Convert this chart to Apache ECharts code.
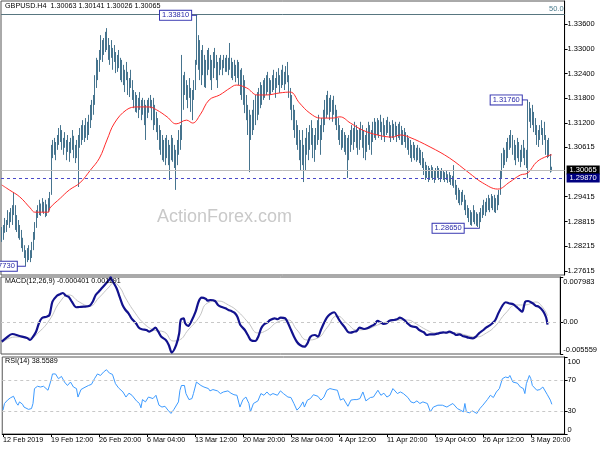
<!DOCTYPE html>
<html>
<head>
<meta charset="utf-8">
<script src="https://cdn.jsdelivr.net/npm/echarts@6.0.0/dist/echarts.min.js"></script>
<style>
html,body{margin:0;padding:0;background:#fff;}
#chart{width:600px;height:450px;}
</style>
</head>
<body>
<div id="chart"></div>
<script>
// ================= DATA =================
const symbolName = 'GBPUSD.H4';
const lastOHLC = [1.30063, 1.30141, 1.30026, 1.30065];

// H4 bar highs, one per bar (bar 0 = 12 Feb 2019)
const barHigh = [
1.2868,1.2873,1.2890,1.2885,1.2909,1.2904,1.2914,1.2921,1.2953,1.2921,
1.2897,1.2885,1.2873,1.2861,1.2842,1.2824,1.2812,1.2817,1.2824,1.2812,
1.2832,1.2856,1.2880,1.2909,1.2921,1.2934,1.2925,1.2938,1.2929,1.2934,
1.2923,1.2938,1.2953,1.3067,1.3079,1.3084,1.3074,1.3091,1.3108,1.3115,
1.3103,1.3084,1.3098,1.3079,1.3091,1.3074,1.3084,1.3103,1.3089,1.3067,
1.3079,1.3091,1.3108,1.3115,1.3127,1.3115,1.3132,1.3123,1.3140,1.3164,
1.3176,1.3188,1.3236,1.3278,1.3273,1.3297,1.3333,1.3321,1.3326,1.3341,
1.3350,1.3326,1.3309,1.3321,1.3302,1.3309,1.3292,1.3285,1.3297,1.3278,
1.3273,1.3261,1.3249,1.3268,1.3244,1.3229,1.3249,1.3224,1.3200,1.3195,
1.3188,1.3181,1.3195,1.3176,1.3181,1.3176,1.3164,1.3176,1.3181,1.3188,
1.3176,1.3181,1.3164,1.3147,1.3132,1.3115,1.3103,1.3091,1.3079,1.3084,
1.3091,1.3079,1.3067,1.3091,1.3084,1.3067,1.3055,1.3079,1.3103,1.3115,
1.3285,1.3236,1.3244,1.3224,1.3212,1.3229,1.3205,1.3200,1.3224,1.3273,
1.3381,1.3333,1.3321,1.3297,1.3309,1.3285,1.3273,1.3297,1.3302,1.3285,
1.3273,1.3292,1.3302,1.3285,1.3268,1.3278,1.3285,1.3273,1.3285,1.3278,
1.3285,1.3278,1.3314,1.3278,1.3268,1.3273,1.3261,1.3273,1.3268,1.3249,
1.3253,1.3236,1.3224,1.3188,1.3164,1.3152,1.3140,1.3152,1.3176,1.3188,
1.3195,1.3205,1.3219,1.3212,1.3224,1.3229,1.3236,1.3244,1.3229,1.3224,
1.3236,1.3249,1.3229,1.3244,1.3253,1.3236,1.3249,1.3261,1.3244,1.3258,
1.3268,1.3236,1.3205,1.3188,1.3164,1.3152,1.3127,1.3115,1.3103,1.3079,
1.3103,1.3067,1.3084,1.3108,1.3098,1.3115,1.3127,1.3108,1.3091,1.3108,
1.3127,1.3140,1.3115,1.3132,1.3152,1.3176,1.3188,1.3198,1.3181,1.3188,
1.3176,1.3186,1.3164,1.3152,1.3132,1.3115,1.3103,1.3108,1.3098,1.3091,
1.3084,1.3091,1.3103,1.3115,1.3108,1.3123,1.3115,1.3103,1.3108,1.3123,
1.3115,1.3103,1.3091,1.3108,1.3123,1.3115,1.3103,1.3123,1.3132,1.3123,
1.3132,1.3127,1.3140,1.3123,1.3132,1.3115,1.3127,1.3135,1.3123,1.3115,
1.3127,1.3118,1.3123,1.3113,1.3118,1.3123,1.3113,1.3103,1.3108,1.3098,
1.3091,1.3084,1.3079,1.3067,1.3074,1.3067,1.3060,1.3067,1.3060,1.3055,
1.3050,1.3035,1.3026,1.3018,1.3016,1.3011,1.3018,1.3013,1.3006,1.3011,
1.3016,1.3011,1.3006,1.3011,1.3006,1.3001,1.3006,1.2996,1.3001,1.2994,
1.2992,1.3018,1.2982,1.2970,1.2963,1.2958,1.2953,1.2958,1.2946,1.2934,
1.2921,1.2914,1.2909,1.2904,1.2921,1.2909,1.2904,1.2900,1.2904,1.2914,
1.2921,1.2934,1.2929,1.2938,1.2946,1.2938,1.2948,1.2943,1.2946,1.2938,
1.2946,1.2958,1.3006,1.3047,1.3060,1.3055,1.3074,1.3084,1.3091,1.3103,
1.3091,1.3079,1.3067,1.3084,1.3074,1.3055,1.3067,1.3079,1.3060,1.3055,
1.3176,1.3171,1.3156,1.3164,1.3147,1.3132,1.3115,1.3103,1.3115,1.3127,
1.3108,1.3123,1.3091,1.3079,1.3084,1.3045,1.30141
];
// H4 bar lows, one per bar
const barLow = [
1.2832,1.2837,1.2854,1.2856,1.2873,1.2866,1.2880,1.2873,1.2897,1.2861,
1.2856,1.2841,1.2837,1.2817,1.2808,1.2793,1.2773,1.2783,1.2788,1.2783,
1.2793,1.2812,1.2837,1.2866,1.2890,1.2897,1.2895,1.2904,1.2900,1.2892,
1.2895,1.2904,1.2909,1.2946,1.3035,1.3043,1.3030,1.3055,1.3067,1.3074,
1.3055,1.3043,1.3060,1.3030,1.3050,1.3026,1.3047,1.3055,1.3035,1.3023,
1.3035,1.2965,1.3060,1.3067,1.3079,1.3074,1.3084,1.3079,1.3091,1.3108,
1.3127,1.3140,1.3164,1.3205,1.3224,1.3244,1.3273,1.3268,1.3285,1.3292,
1.3297,1.3273,1.3261,1.3278,1.3249,1.3268,1.3241,1.3244,1.3253,1.3224,
1.3219,1.3212,1.3195,1.3224,1.3188,1.3183,1.3205,1.3176,1.3156,1.3147,
1.3145,1.3132,1.3152,1.3127,1.3140,1.3115,1.3079,1.3132,1.3145,1.3156,
1.3127,1.3103,1.3115,1.3098,1.3079,1.3055,1.3043,1.3030,1.3026,1.3018,
1.3035,1.3018,1.2982,1.3030,1.3026,1.3011,1.2958,1.3018,1.3043,1.3055,
1.3079,1.3152,1.3188,1.3176,1.3156,1.3181,1.3147,1.3127,1.3176,1.3200,
1.3261,1.3249,1.3224,1.3212,1.3236,1.3207,1.3205,1.3236,1.3249,1.3224,
1.3200,1.3229,1.3253,1.3224,1.3205,1.3236,1.3249,1.3236,1.3253,1.3244,
1.3244,1.3236,1.3249,1.3229,1.3224,1.3234,1.3219,1.3229,1.3212,1.3188,
1.3176,1.3164,1.3144,1.3127,1.3091,1.3001,1.3079,1.3091,1.3103,1.3115,
1.3127,1.3140,1.3156,1.3164,1.3176,1.3181,1.3188,1.3195,1.3176,1.3188,
1.3195,1.3200,1.3181,1.3205,1.3212,1.3193,1.3205,1.3212,1.3200,1.3214,
1.3219,1.3181,1.3152,1.3127,1.3103,1.3084,1.3067,1.3055,1.3030,1.3006,
1.3018,1.2977,1.3006,1.3043,1.3030,1.3055,1.3067,1.3035,1.3026,1.3055,
1.3067,1.3079,1.3043,1.3079,1.3098,1.3115,1.3132,1.3140,1.3127,1.3147,
1.3123,1.3140,1.3115,1.3103,1.3079,1.3067,1.3055,1.3060,1.3050,1.3043,
1.2987,1.3030,1.3050,1.3067,1.3055,1.3074,1.3060,1.3043,1.3055,1.3079,
1.3060,1.3035,1.3030,1.3050,1.3067,1.3055,1.3043,1.3074,1.3084,1.3079,
1.3091,1.3084,1.3098,1.3079,1.3089,1.3074,1.3091,1.3096,1.3084,1.3074,
1.3084,1.3079,1.3089,1.3074,1.3084,1.3079,1.3067,1.3067,1.3074,1.3060,
1.3055,1.3043,1.3035,1.3026,1.3035,1.3030,1.3026,1.3030,1.3023,1.3018,
1.3011,1.2994,1.2982,1.2987,1.2977,1.2982,1.2987,1.2982,1.2975,1.2982,
1.2987,1.2982,1.2977,1.2987,1.2982,1.2977,1.2982,1.2975,1.2977,1.2970,
1.2968,1.2963,1.2946,1.2934,1.2926,1.2921,1.2921,1.2929,1.2909,1.2897,
1.2890,1.2880,1.2873,1.2871,1.2880,1.2875,1.2871,1.2868,1.2865,1.2880,
1.2890,1.2897,1.2895,1.2904,1.2909,1.2904,1.2914,1.2909,1.2904,1.2902,
1.2909,1.2921,1.2946,1.2987,1.3011,1.3018,1.3026,1.3035,1.3055,1.3060,
1.3043,1.3030,1.3018,1.3035,1.3026,1.3013,1.3026,1.3035,1.3018,1.3011,
1.2987,1.3123,1.3108,1.3115,1.3098,1.3091,1.3067,1.3062,1.3079,1.3091,
1.3067,1.3079,1.3043,1.3035,1.3038,1.3000,1.30026
];

// moving average (red), [bar, value] read at the points below
const maLine = [[0,1.2970],[5,1.2958],[12,1.2941],[19,1.2914],[22,1.2904],[31,1.2904],[32,1.2914],[39,1.2938],[45,1.2958],[52,1.2975],
[59,1.3006],[65,1.3035],[70,1.3079],[75,1.3120],[83,1.3152],[90,1.3159],[98,1.3159],[103,1.3152],[110,1.3135],[116,1.3118],
[123,1.3127],[127,1.3120],[132,1.3140],[138,1.3176],[145,1.3188],[152,1.3205],[156,1.3212],[163,1.3205],[170,1.3188],[176,1.3188],
[185,1.3193],[192,1.3195],[198,1.3169],[205,1.3144],[212,1.3132],[220,1.3132],[225,1.3135],[232,1.3120],[240,1.3103],[250,1.3091],
[260,1.3086],[265,1.3091],[271,1.3086],[285,1.3062],[298,1.3035],[311,1.2999],[320,1.2975],[330,1.2960],[338,1.2977],[345,1.2994],
[350,1.2999],[356,1.3026],[363,1.3040],[366,1.3043]];

// MACD(12,26,9) main line and signal line, [bar, value]
const macdLine = [[0,-0.00339],[3,-0.00274],[7,-0.00204],[12,-0.00239],[17,-0.00274],[19,-0.00310],[21,-0.00251],[23,-0.00164],[25,-0.00011],[27,0.00077],
[30,0.00100],[32,0.00130],[34,0.00364],[37,0.00470],[39,0.00494],[41,0.00517],[43,0.00470],[45,0.00447],[47,0.00364],[50,0.00266],
[52,0.00271],[55,0.00276],[59,0.00294],[61,0.00364],[63,0.00482],[65,0.00540],[67,0.00600],[70,0.00688],[72,0.00750],[73,0.00790],
[74,0.00740],[77,0.00600],[79,0.00452],[81,0.00306],[83,0.00218],[85,0.00160],[87,0.00072],[90,-0.00016],[92,-0.00093],[94,-0.00121],
[97,-0.00134],[99,-0.00164],[101,-0.00134],[103,-0.00093],[105,-0.00164],[107,-0.00251],[110,-0.00310],[112,-0.00397],[114,-0.00530],[117,-0.00397],
[119,-0.00192],[120,0.00042],[122,0.00072],[123,-0.00016],[125,-0.00063],[127,0.00012],[130,0.00188],[132,0.00364],[134,0.00434],[137,0.00412],
[138,0.00382],[140,0.00394],[143,0.00376],[145,0.00306],[147,0.00276],[150,0.00248],[152,0.00218],[154,0.00200],[156,0.00171],[158,0.00100],
[160,-0.00046],[163,-0.00134],[165,-0.00222],[167,-0.00310],[170,-0.00327],[172,-0.00251],[174,-0.00104],[176,-0.00033],[178,-0.00005],[180,0.00042],
[183,0.00072],[185,0.00055],[187,0.00083],[190,0.00072],[192,-0.00016],[194,-0.00134],[196,-0.00251],[198,-0.00345],[200,-0.00397],[203,-0.00427],
[205,-0.00368],[207,-0.00251],[210,-0.00222],[212,-0.00251],[214,-0.00134],[216,-0.00016],[218,0.00083],[220,0.00142],[223,0.00178],[225,0.00100],
[227,0.00012],[230,-0.00086],[232,-0.00164],[234,-0.00181],[236,-0.00164],[238,-0.00151],[240,-0.00093],[243,-0.00116],[245,-0.00104],[247,-0.00076],
[250,-0.00033],[252,0.00025],[254,0.00002],[256,-0.00028],[258,-0.00016],[260,0.00030],[263,0.00042],[265,0.00055],[267,0.00083],[270,0.00042],
[272,-0.00016],[274,-0.00058],[276,-0.00076],[278,-0.00086],[280,-0.00134],[283,-0.00174],[285,-0.00222],[287,-0.00209],[290,-0.00209],[293,-0.00192],
[296,-0.00174],[298,-0.00181],[300,-0.00164],[303,-0.00192],[305,-0.00222],[307,-0.00209],[309,-0.00239],[311,-0.00251],[313,-0.00269],[316,-0.00280],
[318,-0.00251],[320,-0.00192],[323,-0.00134],[325,-0.00086],[327,-0.00058],[329,-0.00016],[331,0.00042],[333,0.00160],[336,0.00306],[338,0.00354],
[340,0.00336],[343,0.00318],[345,0.00276],[347,0.00230],[349,0.00188],[351,0.00364],[353,0.00376],[356,0.00336],[358,0.00294],[360,0.00276],
[363,0.00200],[365,0.00090],[366,-0.000401]];
const signalLine = [[0,-0.00362],[9,-0.00257],[19,-0.00274],[25,-0.00169],[32,0.00042],[39,0.00359],[45,0.00482],[52,0.00359],[59,0.00288],[65,0.00429],
[72,0.00623],[75,0.00693],[79,0.00623],[83,0.00429],[89,0.00183],[95,-0.00011],[102,-0.00134],[109,-0.00169],[115,-0.00327],[119,-0.00310],
[125,-0.00134],[132,0.00077],[138,0.00341],[145,0.00376],[152,0.00306],[158,0.00200],[165,0.00007],[172,-0.00186],[178,-0.00134],[185,0.00007],
[192,0.00042],[198,-0.00134],[205,-0.00310],[212,-0.00274],[218,-0.00098],[225,0.00113],[232,-0.00028],[238,-0.00134],[245,-0.00116],[252,-0.00046],
[258,0.00007],[265,0.00042],[272,0.00042],[278,-0.00028],[285,-0.00134],[291,-0.00186],[298,-0.00186],[305,-0.00186],[311,-0.00222],[318,-0.00257],
[325,-0.00186],[331,-0.00063],[338,0.00165],[345,0.00306],[351,0.00306],[358,0.00359],[362,0.00290],[366,0.001191]];

// RSI(14), [bar, value]
const rsiLine = [[0,31],[1,39.6],[3,44],[5,47],[7,49],[8,44.7],[9,40],[10,37.4],[11,41.7],[13,38.7],[14,35],[17,32],[19,33],[20,39.6],[21,59],
[23,62],[25,61],[27,62],[30,56.8],[32,69.7],[33,78],[35,78],[37,71.8],[39,74.8],[41,67.5],[43,63],[45,67.5],[47,61],[49,59],[50,48],
[52,57.7],[54,60],[57,63],[59,64.5],[61,71.8],[63,78],[65,76],[67,80.4],[69,83.5],[71,79],[73,77.4],[75,65.4],[77,60],[80,54.6],[82,48],
[84,53],[86,50.3],[89,43],[91,39.6],[92,34],[93,44.7],[95,41.7],[97,48],[100,46],[102,50.3],[104,37.4],[106,35],[108,36],[110,31],[112,26.7],
[114,32],[117,41.7],[118,56.8],[119,63],[121,63],[122,52.5],[124,44.7],[126,46],[127,52.5],[129,67.5],[130,69.7],[132,63],[134,61],[137,59],[138,56],
[140,57.7],[143,56],[145,52.5],[147,54.6],[150,56],[152,53],[154,51],[156,50.3],[158,35],[160,44.7],[162,48],[164,39.6],[165,28.8],[167,39.6],[170,43],
[172,52.5],[174,50.3],[176,54.6],[178,50.3],[180,52.5],[183,50.3],[185,56],[187,52.5],[190,48],[192,47.4],[194,39.6],[196,31],[198,35],[200,41.7],[201,35],
[203,44],[205,46],[207,51],[210,49],[212,44],[214,48],[216,56.8],[218,59],[220,58],[223,56.8],[225,44],[227,46],[230,36],[232,44],[234,44.7],
[236,44.7],[238,46],[240,54.6],[242,43],[243,44],[245,47.4],[247,48],[250,56.8],[252,50.3],[254,53],[256,48],[258,50.3],[260,59],[263,52.5],[265,54.6],
[267,52.5],[270,47.4],[272,41.7],[274,40.4],[276,43],[278,39.6],[280,41.7],[283,39.6],[285,28.8],[287,35],[290,37.4],[291,35],[293,37.4],[296,35],[298,37.4],
[300,39.6],[303,33],[305,31],[307,28.8],[308,39.6],[309,28.8],[311,27.5],[313,30],[316,26.7],[318,33],[320,37.4],[323,44.7],[325,50.3],[327,47.4],[329,54.6],
[331,59],[333,71.8],[335,74],[337,73],[338,76],[339,77],[340,67.5],[343,66],[345,61],[347,59],[348,52.5],[349,65.4],[351,76],[352,71.8],[353,63],
[356,56.8],[358,57.7],[360,61],[363,51],[364,50.3],[365,44],[366,38.5589]];

// x tick labels, one every 32 H4 bars
const tickLabels = ['12 Feb 2019','19 Feb 12:00','26 Feb 20:00','6 Mar 04:00','13 Mar 12:00','20 Mar 20:00',
  '28 Mar 04:00','4 Apr 12:00','11 Apr 20:00','19 Apr 04:00','26 Apr 12:00','3 May 20:00'];
const tickEvery = 32;
// y tick labels
const priceTicks = [1.336,1.330,1.324,1.318,1.312,1.30615,1.29415,1.28815,1.28215,1.27615];
const macdTicks = [0.007983, 0, -0.005559];
const rsiTicks = [100, 70, 30, 0];
const rsiLevels = [70, 30];
// horizontal levels on the price panel
const supportLevel = 1.29870;
const fibLevel = 1.33842;
const fibText = '50.0';
// labelled swing highs / lows
const extremes = [
  {text:'1.33810', kind:'high'},
  {text:'1.31760', kind:'high'},
  {text:'1.28650', kind:'low'},
  {text:'1.27730', kind:'low'}
];

// ================= CHART =================
const FONT = '"Liberation Sans", Arial, sans-serif';
const BAR = '#46748e';
const N = barHigh.length;
const SHIFT = 8;                       // empty space on the right (chart shift)
const cats = [];
for (let i = 0; i < N + SHIFT; i++) cats.push(String(i));
const candles = barHigh.map((h, i) => [barLow[i], h, barLow[i], h]);
const lastMacd = macdLine[macdLine.length - 1][1];
const lastSignal = signalLine[signalLine.length - 1][1];
const lastRsi = rsiLine[rsiLine.length - 1][1];
const leads = [6, 6, 16, 9];

const gridL = 1, gridW = 563.6;
const showTick = i => i % tickEvery === 0 && i / tickEvery < tickLabels.length;
const hdr = {fontSize: 7.2, fontWeight: 'normal', color: '#000', fontFamily: FONT};

function xAxisFor(k) {
  const on = k === 2;
  return {
    type: 'category', gridIndex: k, data: cats, boundaryGap: true,
    axisLine: {show: on, lineStyle: {color: '#000', width: 1}},
    axisTick: {show: on, interval: (i) => showTick(i), alignWithLabel: true, length: 3, lineStyle: {color: '#000'}},
    axisLabel: {show: on, interval: (i) => showTick(i), formatter: (v, i) => tickLabels[i / tickEvery] || '',
      align: 'left', fontSize: 7.2, color: '#000', margin: 3, fontFamily: FONT},
    splitLine: {show: false}
  };
}
function yAxisFor(k, min, max, ticks, fmt) {
  return {
    type: 'value', gridIndex: k, position: 'right', min: min, max: max,
    axisLine: {show: true, lineStyle: {color: '#000', width: 1}},
    axisTick: {show: true, length: 3, customValues: ticks, lineStyle: {color: '#000'}},
    axisLabel: {customValues: ticks, formatter: fmt, fontSize: 7.5, color: '#000', margin: 3, fontFamily: FONT,
      rich: {
        t: {padding: [9, 0, 0, 0], fontSize: 7.5, color: '#000', fontFamily: FONT},
        b: {padding: [0, 0, 9, 0], fontSize: 7.5, color: '#000', fontFamily: FONT}
      }},
    splitLine: {show: false}
  };
}
function levelLabel(text, bg) {
  return {show: true, position: 'end', distance: 2, formatter: text, backgroundColor: bg,
    color: '#fff', padding: [1, 3, 0, 3], fontSize: 7.5, fontFamily: FONT};
}

const hlMarks = extremes.map((e, k) => {
  const price = parseFloat(e.text);
  const bar = (e.kind === 'high' ? barHigh : barLow).lastIndexOf(price);
  return {
    coord: [bar, price], value: e.text,
    symbol: 'rect', symbolSize: [leads[k], 1], symbolOffset: [-leads[k] / 2, 0],
    itemStyle: {color: '#3535b0'},
    label: {show: true, position: 'left', distance: 0, formatter: e.text, color: '#2a2aa8',
      backgroundColor: '#fff', borderColor: '#3535b0', borderWidth: 1, padding: [1, 2, 0, 2],
      fontSize: 7.5, fontFamily: FONT}
  };
});

const chart = echarts.init(document.getElementById('chart'), null, {renderer: 'canvas'});
chart.setOption({
  animation: false,
  backgroundColor: '#fff',
  title: [
    {text: symbolName + '  ' + lastOHLC.map(v => v.toFixed(5)).join(' '), left: 5, top: 3, padding: 0, textStyle: hdr},
    {text: 'MACD(12,26,9) ' + lastMacd.toFixed(6) + ' ' + lastSignal.toFixed(6), left: 5, top: 278, padding: 0, textStyle: hdr},
    {text: 'RSI(14) ' + lastRsi.toFixed(4), left: 5, top: 358, padding: 0, textStyle: hdr}
  ],
  graphic: [
    {type: 'text', left: 157, top: 208, z: 0, silent: true,
      style: {text: 'ActionForex.com', fill: '#c9c9c9', font: '18px "Liberation Sans", Arial, sans-serif'}}
  ],
  grid: [
    {left: gridL, top: 1, width: gridW, height: 274, show: true, borderColor: '#555', borderWidth: 1},
    {left: gridL, top: 277, width: gridW, height: 77, show: true, borderColor: '#555', borderWidth: 1},
    {left: gridL, top: 357, width: gridW, height: 77, show: true, borderColor: '#555', borderWidth: 1}
  ],
  xAxis: [xAxisFor(0), xAxisFor(1), xAxisFor(2)],
  yAxis: [
    yAxisFor(0, 1.27518, 1.34157, priceTicks, v => v.toFixed(5)),
    yAxisFor(1, -0.005559, 0.007983, macdTicks, v => v === 0 ? '0.00' : (v > 0 ? '{t|' + v.toFixed(6) + '}' : '{b|' + v.toFixed(6) + '}')),
    yAxisFor(2, 0, 100, rsiTicks, v => v === 100 ? '{t|100}' : (v === 0 ? '{b|0}' : String(v)))
  ],
  series: [
    {
      type: 'candlestick', name: symbolName, xAxisIndex: 0, yAxisIndex: 0, data: candles,
      barWidth: 0.5,
      itemStyle: {color: BAR, color0: BAR, borderColor: BAR, borderColor0: BAR, borderWidth: 1},
      markPoint: {silent: true, animation: false, data: hlMarks}
    },
    {type: 'line', name: 'MA', xAxisIndex: 0, yAxisIndex: 0, data: maLine, smooth: 0.4, symbol: 'none',
      lineStyle: {color: '#ff2b2b', width: 1}, z: 3,
      markLine: {
        silent: true, animation: false, symbol: ['none', 'none'], precision: 6,
        data: [
          {yAxis: lastOHLC[3], lineStyle: {color: '#bdbdbd', type: 'solid', width: 1}, label: levelLabel(lastOHLC[3].toFixed(5), '#000')},
          {yAxis: supportLevel, lineStyle: {color: '#4a4ac8', type: [3, 3], width: 1}, label: levelLabel(supportLevel.toFixed(5), '#000080')},
          {yAxis: fibLevel, lineStyle: {color: '#587680', type: 'solid', width: 1},
            label: {show: true, position: 'insideEndTop', distance: 1, formatter: fibText, color: '#4a7b8c', fontSize: 7.5, fontFamily: FONT}}
        ]
      }},
    {type: 'line', name: 'Signal', xAxisIndex: 1, yAxisIndex: 1, data: signalLine, smooth: 0.5, symbol: 'none',
      lineStyle: {color: '#c4c4c4', width: 1},
      markLine: {silent: true, animation: false, symbol: ['none', 'none'], label: {show: false}, precision: 6,
        lineStyle: {color: '#c8c8c8', type: [3, 3], width: 1}, data: [{yAxis: 0}]}},
    {type: 'line', name: 'MACD', xAxisIndex: 1, yAxisIndex: 1, data: macdLine, smooth: 0.3, symbol: 'none',
      lineStyle: {color: '#12128e', width: 2.2}},
    {type: 'line', name: 'RSI', xAxisIndex: 2, yAxisIndex: 2, data: rsiLine, symbol: 'none',
      lineStyle: {color: '#3d9bff', width: 1},
      markLine: {silent: true, animation: false, symbol: ['none', 'none'], label: {show: false}, precision: 2,
        lineStyle: {color: '#c8c8c8', type: [3, 3], width: 1}, data: rsiLevels.map(v => ({yAxis: v}))}}
  ]
});
</script>
</body>
</html>
